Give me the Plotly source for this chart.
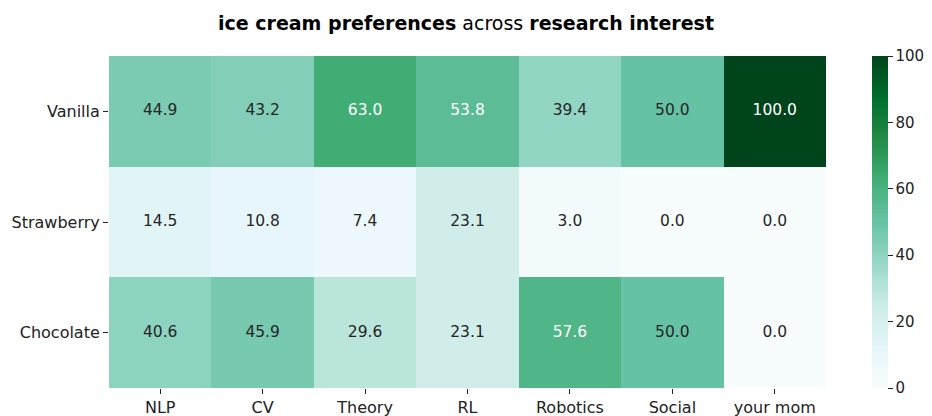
import plotly.graph_objects as go

# данные
interests = ["NLP", "CV", "Theory", "RL", "Robotics", "Social", "your mom"]
flavors = ["Vanilla", "Strawberry", "Chocolate"]
vanilla = [44.9, 43.2, 63.0, 53.8, 39.4, 50.0, 100.0]
strawberry = [14.5, 10.8, 7.4, 23.1, 3.0, 0.0, 0.0]
chocolate = [40.6, 45.9, 29.6, 23.1, 57.6, 50.0, 0.0]
cbar_ticks = [0, 20, 40, 60, 80, 100]

z = [vanilla, strawberry, chocolate]

# paper = 109..932 px, сама карта 109..826, шкала с 872 px
paper_w = 932 - 109
fig = go.Figure()
fig.add_trace(go.Heatmap(
    z=z, x=interests, y=flavors,
    colorscale="BuGn", zmin=0, zmax=100,
    hoverinfo="skip",
    colorbar=dict(
        x=(872 - 109) / paper_w, xanchor="left", thickness=16, len=1,
        y=0.5, yanchor="middle", xpad=0, ypad=0,
        outlinewidth=0, tickvals=cbar_ticks, ticks="outside", ticklen=5,
        tickcolor="#222", tickfont=dict(size=15, color="#222"),
    ),
))

# подписи в ячейках: белые на тёмном, чёрные на светлом
xs, ys, txt, cols = [], [], [], []
for row, name in zip(z, flavors):
    for v, cat in zip(row, interests):
        xs.append(cat)
        ys.append(name)
        txt.append(f"{v:.1f}")
        cols.append("white" if v > 52 else "#262626")
fig.add_trace(go.Scatter(
    x=xs, y=ys, text=txt, mode="text",
    textfont=dict(size=15.5, color=cols, family="DejaVu Sans"),
    hoverinfo="skip", showlegend=False,
))

fig.update_layout(
    width=932, height=416,
    margin=dict(l=109, r=0, t=56, b=28),
    paper_bgcolor="white", plot_bgcolor="white",
    font=dict(family="DejaVu Sans", size=16, color="#222"),
    title=dict(
        text="<b>ice cream preferences</b> across <b>research interest</b>",
        x=466 / 932, xref="container", xanchor="center",
        y=0.945, yanchor="middle",
        font=dict(size=19, color="black"),
    ),
    xaxis=dict(domain=[0, (826 - 109) / paper_w], automargin=False,
               showgrid=False, zeroline=False, ticks="outside", ticklen=5,
               tickcolor="#222"),
    yaxis=dict(automargin=False, showgrid=False, zeroline=False,
               autorange="reversed", ticks="outside", ticklen=5,
               tickcolor="#222"),
)

# убираем стандартный отступ body и панель инструментов
fig.write_html("out.html", config={"displayModeBar": False},
               post_script="document.body.style.margin='0';")
